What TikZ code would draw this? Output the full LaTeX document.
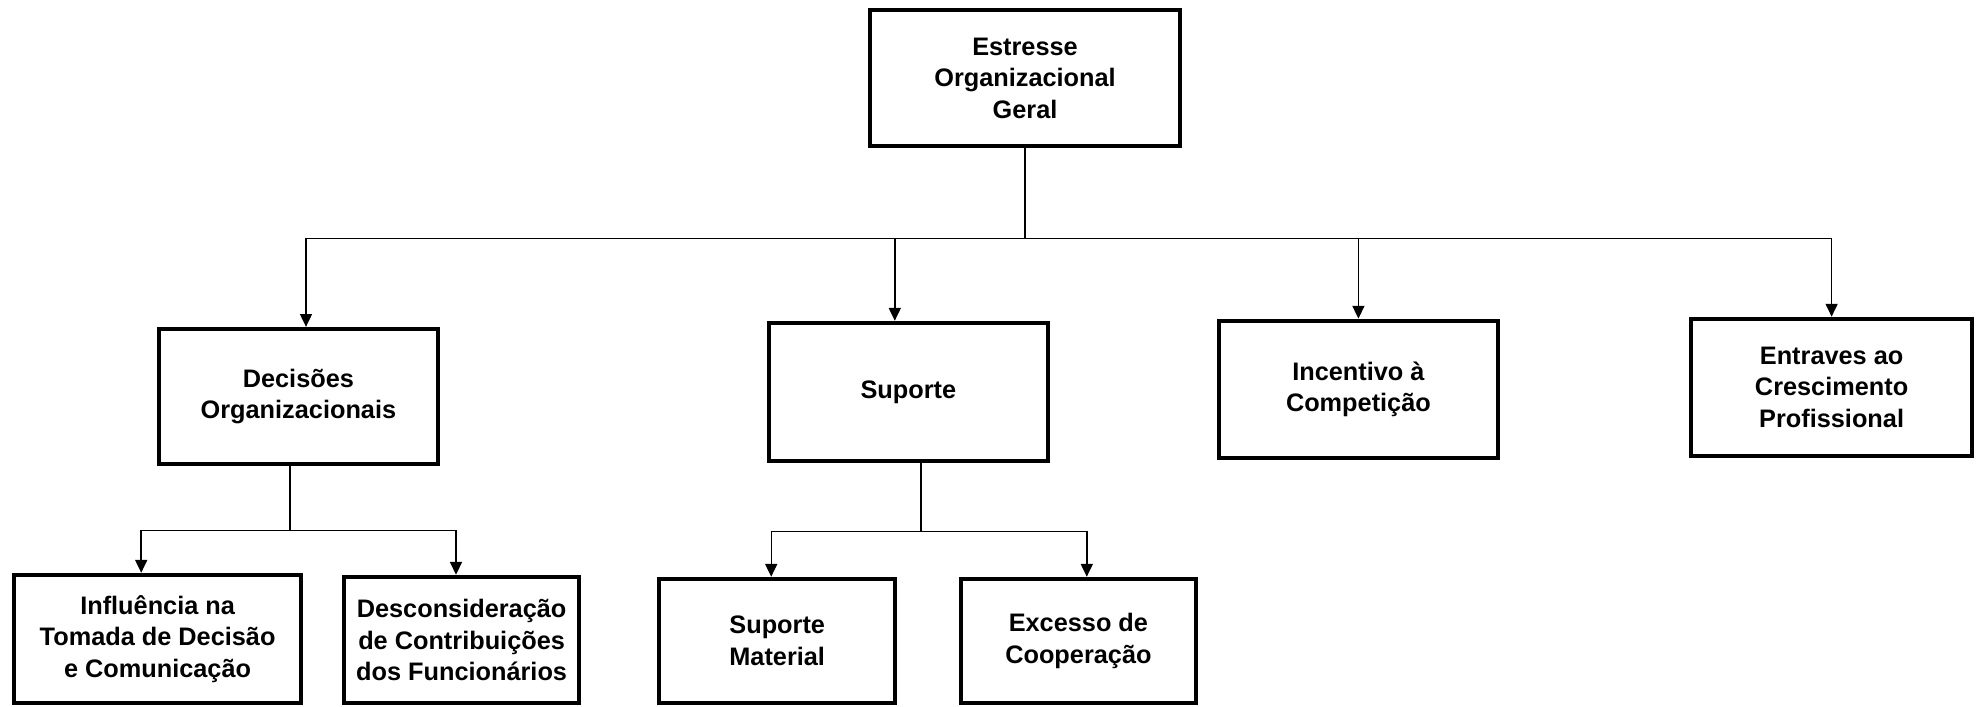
\documentclass[tikz,border=0pt]{standalone}
\usepackage{fontspec}
\setmainfont{Liberation Sans}
\usetikzlibrary{arrows.meta}

\begin{document}
\begin{tikzpicture}[
    bloco/.style={draw, line width=3.2pt, align=center, inner sep=2pt,
        font=\bfseries\fontsize{18}{22.4}\selectfont},
    seta/.style={-{Triangle[length=0.32cm,width=0.3cm]}, line width=1pt}]
        \useasboundingbox (0,0) rectangle (49.6,17.675);

        % nivel 1
        \node[bloco, minimum width=7.75cm, minimum height=3.4cm] at (25.625, 15.725)(geral){Estresse\\Organizacional\\Geral};

        % nivel 2
        \node[bloco, minimum width=6.975cm, minimum height=3.375cm] at (7.46, 7.76)(dec){Decisões\\Organizacionais};
        \node[bloco, minimum width=6.975cm, minimum height=3.45cm] at (22.71, 7.875)(sup){Suporte};
        \node[bloco, minimum width=6.975cm, minimum height=3.425cm] at (33.96, 7.94)(inc){Incentivo à\\Competição};
        \node[bloco, minimum width=7.025cm, minimum height=3.425cm] at (45.79, 7.99)(ent){Entraves ao\\Crescimento\\Profissional};

        % nivel 3
        \node[bloco, minimum width=7.175cm, minimum height=3.2cm] at (3.94, 1.7)(inf){Influência na\\Tomada de Decisão\\e Comunicação};
        \node[bloco, minimum width=5.875cm, minimum height=3.15cm] at (11.54, 1.675)(des){Desconsideração\\de Contribuições\\dos Funcionários};
        \node[bloco, minimum width=5.9cm, minimum height=3.1cm] at (19.43, 1.65)(mat){Suporte\\Material};
        \node[bloco, minimum width=5.875cm, minimum height=3.1cm] at (26.96, 1.65)(exc){Excesso de\\Cooperação};

        \foreach \n/\s in {dec/0.19, sup/-0.34, inc/0, ent/0}
            \draw[seta] (geral.south) -- ++(0,-2.25) -| ([xshift=\s cm]\n.north);
        \foreach \n/\s in {inf/-0.41, des/-0.14}
            \draw[seta] ([xshift=-0.21cm]dec.south) -- ++(0,-1.6) -| ([xshift=\s cm]\n.north);
        \foreach \n/\s in {mat/-0.15, exc/0.21}
            \draw[seta] ([xshift=0.31cm]sup.south) -- ++(0,-1.7) -| ([xshift=\s cm]\n.north);
    \end{tikzpicture}
\end{document}
